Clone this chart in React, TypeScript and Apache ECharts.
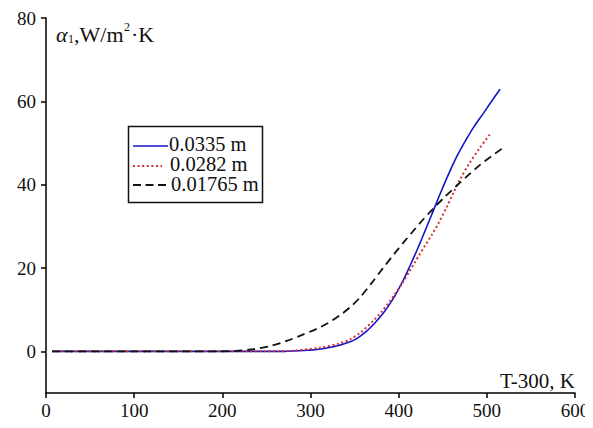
import React, { useEffect, useRef } from "react";
import * as echarts from "echarts";

const xTicks = [0, 100, 200, 300, 400, 500, 600];
const yTicks = [0, 20, 40, 60, 80];

const seriesNames = ["0.0335 m", "0.0282 m", "0.01765 m"];

const blueData: [number, number][] = [
  [7, 0], [100, 0], [200, 0], [270, 0], [300, 0.3], [311, 0.55], [326, 1.1], [341, 2.0],
  [352, 3.0], [364, 4.9], [373, 6.8], [382, 9.0], [390, 11.4], [397, 13.8], [405, 17.0],
  [413, 20.6], [420, 23.9], [426, 26.9], [433, 30.5], [439, 33.6], [448, 38.3], [458, 43.2],
  [467, 47.2], [477, 51.0], [486, 54.1], [496, 57.1], [505, 59.9], [515, 62.9],
];

const redData: [number, number][] = [
  [7, 0], [100, 0], [200, 0], [260, 0], [280, 0.15], [311, 0.9], [333, 1.9], [345, 2.9],
  [356, 4.4], [371, 7.3], [381, 9.6], [390, 12.0], [396, 13.8], [404, 16.3], [412, 19.1],
  [418, 21.2], [423, 23.0], [430, 25.4], [438, 28.1], [445, 30.7], [454, 34.4], [462, 38.0],
  [471, 41.8], [481, 45.4], [492, 48.8], [505, 52.5],
];

const blackData: [number, number][] = [
  [7, 0], [100, 0], [195, 0], [215, 0.1], [235, 0.5], [255, 1.3], [273, 2.5], [290, 3.9],
  [307, 5.4], [320, 6.8], [333, 8.6], [345, 10.6], [356, 12.9], [369, 16.3], [382, 19.9],
  [395, 23.4], [407, 26.5], [417, 29.0], [428, 31.7], [439, 34.2], [452, 37.0], [466, 39.8],
  [479, 42.3], [492, 44.7], [505, 46.8], [519, 48.9],
];

const FONT = "'Liberation Serif', 'Times New Roman', serif";

export default function App() {
  const ref = useRef<HTMLDivElement>(null);
  useEffect(() => {
    if (!ref.current) return;
    const chart = echarts.init(ref.current, undefined, { renderer: "svg" });
    const txt = (x: number, y: number, text: string, size: number, extra: any = {}) => ({
      type: "text",
      x,
      y,
      style: {
        text,
        fontSize: size,
        fontFamily: FONT,
        fill: "#111",
        verticalAlign: "middle",
        align: "left",
        ...extra,
      },
    });
    chart.setOption({
      animation: false,
      backgroundColor: "#fff",
      grid: { left: 46, right: 18, top: 18, bottom: 35 },
      xAxis: {
        type: "value",
        min: xTicks[0],
        max: xTicks[xTicks.length - 1],
        interval: 100,
        splitLine: { show: false },
        axisLine: { onZero: false, lineStyle: { color: "#000", width: 1.5 } },
        axisTick: { length: 5, lineStyle: { color: "#000", width: 1.5 } },
        axisLabel: {
          margin: 8,
          fontSize: 19,
          fontFamily: FONT,
          color: "#111",
          showMinLabel: true,
          showMaxLabel: true,
        },
      },
      yAxis: {
        type: "value",
        min: -10,
        max: 80,
        splitLine: { show: false },
        axisLine: { show: true, onZero: false, lineStyle: { color: "#000", width: 1.5 } },
        axisTick: { show: true, length: 5, customValues: yTicks, lineStyle: { color: "#000", width: 1.5 } },
        axisLabel: {
          margin: 10,
          fontSize: 19,
          fontFamily: FONT,
          color: "#111",
          customValues: yTicks,
        },
      },
      series: [
        {
          name: seriesNames[0],
          type: "line",
          data: blueData,
          showSymbol: false,
          smooth: 0.3,
          lineStyle: { color: "#1414c8", width: 1.6 },
        },
        {
          name: seriesNames[1],
          type: "line",
          data: redData,
          showSymbol: false,
          smooth: 0.3,
          lineStyle: { color: "#d03030", width: 2, type: [2, 2.6] },
        },
        {
          name: seriesNames[2],
          type: "line",
          data: blackData,
          showSymbol: false,
          smooth: 0.3,
          lineStyle: { color: "#111", width: 1.8, type: [8, 5] },
        },
      ],
      graphic: [
        txt(56, 34, "α", 22, { fontStyle: "italic" }),
        txt(68, 39, "1", 12),
        txt(74, 34, ",W/m", 22),
        txt(124, 27, "2", 12),
        txt(131, 34, "·K", 22),
        txt(575, 381, "T-300, K", 21, { align: "right" }),
        {
          type: "rect",
          shape: { x: 128.5, y: 126.5, width: 134, height: 76 },
          style: { fill: "#fff", stroke: "#111", lineWidth: 1.5 },
        },
        {
          type: "line",
          shape: { x1: 133, y1: 146, x2: 168, y2: 146 },
          style: { stroke: "#1414c8", lineWidth: 1.6 },
        },
        {
          type: "line",
          shape: { x1: 133, y1: 166, x2: 162, y2: 166 },
          style: { stroke: "#d03030", lineWidth: 2, lineDash: [2, 2.6] },
        },
        {
          type: "line",
          shape: { x1: 133, y1: 185, x2: 170, y2: 185 },
          style: { stroke: "#111", lineWidth: 1.8, lineDash: [8, 4.5] },
        },
        txt(169, 144, seriesNames[0], 20.5),
        txt(170, 164, seriesNames[1], 20.5),
        txt(171, 184, seriesNames[2], 20.5),
      ],
    });
    return () => chart.dispose();
  }, []);
  return <div ref={ref} style={{ width: 593, height: 428, margin: -8 }} />;
}
